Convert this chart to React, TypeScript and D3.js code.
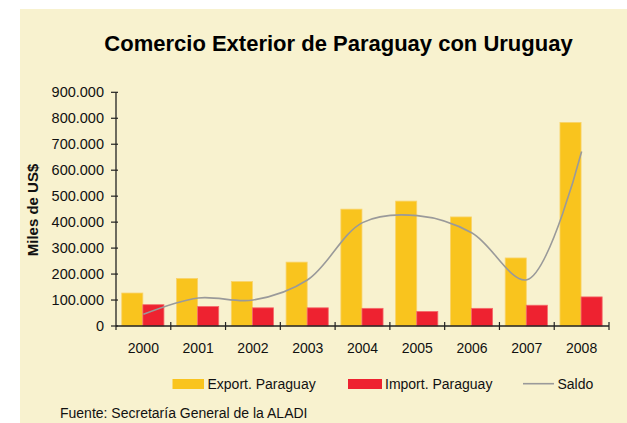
import React from "react";
import * as d3 from "d3";

const years = ["2000", "2001", "2002", "2003", "2004", "2005", "2006", "2007", "2008"];
const exportPy = [127, 183, 171, 246, 450, 481, 420, 262, 784];
const importPy = [82, 75, 70, 70, 68, 56, 68, 80, 112];
const saldo = [45, 108, 100, 178, 398, 425, 358, 178, 672];
const yTicks = [0, 100, 200, 300, 400, 500, 600, 700, 800, 900];

const W = 627;
const H = 423;
const FONT = "'Liberation Sans', Arial, sans-serif";

const fmt = (v: number) => (v === 0 ? "0" : `${v}.000`);

export default function App() {
  const x = d3.scaleBand<string>().domain(years).range([116, 609]).padding(0);
  const y = d3.scaleLinear().domain([0, 900]).range([326, 92.3]);
  const bw = x.bandwidth();
  const barW = bw * 0.385;
  const offExp = bw * 0.105;
  const offImp = offExp + barW;

  const line = d3
    .line<number>()
    .x((_, i) => (x(years[i]) as number) + bw / 2)
    .y((d) => y(d))
    .curve(d3.curveCatmullRom.alpha(0.5));

  return (
    <svg
      width={W}
      height={H}
      style={{ position: "absolute", left: 0, top: 0 }}
      fontFamily={FONT}
    >
      <rect x={0} y={0} width={W} height={H} fill="#ffffff" />
      <rect x={20} y={9} width={W - 20} height={H - 9} fill="#F8F2CF" />
      <text
        x={338.5}
        y={51}
        textAnchor="middle"
        fontSize={22}
        fontWeight="bold"
        fill="#000"
      >
        Comercio Exterior de Paraguay con Uruguay
      </text>

      {/* bars */}
      {years.map((yr, i) => (
        <g key={yr}>
          <rect
            x={(x(yr) as number) + offExp}
            y={y(exportPy[i])}
            width={barW}
            height={y(0) - y(exportPy[i])}
            fill="#F9C41E"
            stroke="#F9D36A"
            strokeWidth={0.8}
          />
          <rect
            x={(x(yr) as number) + offImp}
            y={y(importPy[i])}
            width={barW}
            height={y(0) - y(importPy[i])}
            fill="#EE2230"
            stroke="#F46A6A"
            strokeWidth={0.8}
          />
        </g>
      ))}

      {/* saldo line */}
      <path d={line(saldo) || ""} fill="none" stroke="#9A9A9A" strokeWidth={1.6} />

      {/* y axis */}
      <line x1={116} x2={116} y1={y(900)} y2={y(0)} stroke="#222" strokeWidth={1.3} />
      {yTicks.map((t) => (
        <g key={t}>
          <line x1={111} x2={118} y1={y(t)} y2={y(t)} stroke="#222" strokeWidth={1.2} />
          <text
            x={104}
            y={y(t)}
            dy="0.35em"
            textAnchor="end"
            fontSize={14.5}
            fill="#111"
          >
            {fmt(t)}
          </text>
        </g>
      ))}

      {/* x axis */}
      <line x1={116} x2={609} y1={y(0)} y2={y(0)} stroke="#222" strokeWidth={1.3} />
      {years.map((yr) => (
        <line
          key={"t" + yr}
          x1={(x(yr) as number) + bw}
          x2={(x(yr) as number) + bw}
          y1={y(0) - 4}
          y2={y(0) + 4}
          stroke="#222"
          strokeWidth={1.2}
        />
      ))}
      <line x1={116} x2={116} y1={y(0)} y2={y(0) + 4} stroke="#222" strokeWidth={1.2} />
      {years.map((yr) => (
        <text
          key={"l" + yr}
          x={(x(yr) as number) + bw / 2}
          y={353}
          textAnchor="middle"
          fontSize={14}
          fill="#111"
        >
          {yr}
        </text>
      ))}

      {/* y axis title */}
      <text
        transform="translate(38,210) rotate(-90)"
        textAnchor="middle"
        fontSize={15}
        fontWeight="bold"
        fill="#111"
      >
        Miles de US$
      </text>

      {/* legend */}
      <rect x={172.5} y={379} width={31.5} height={10} fill="#F9C41E" />
      <text x={207.5} y={389} fontSize={14} fill="#111">
        Export. Paraguay
      </text>
      <rect x={348} y={379} width={34} height={10} fill="#EE2230" />
      <text x={385} y={389} fontSize={14} fill="#111">
        Import. Paraguay
      </text>
      <line x1={523} x2={554} y1={383.7} y2={383.7} stroke="#9A9A9A" strokeWidth={1.6} />
      <text x={557.5} y={389} fontSize={14} fill="#111">
        Saldo
      </text>

      <text x={60} y={418} fontSize={14} fill="#111">
        Fuente: Secretaría General de la ALADI
      </text>
    </svg>
  );
}
